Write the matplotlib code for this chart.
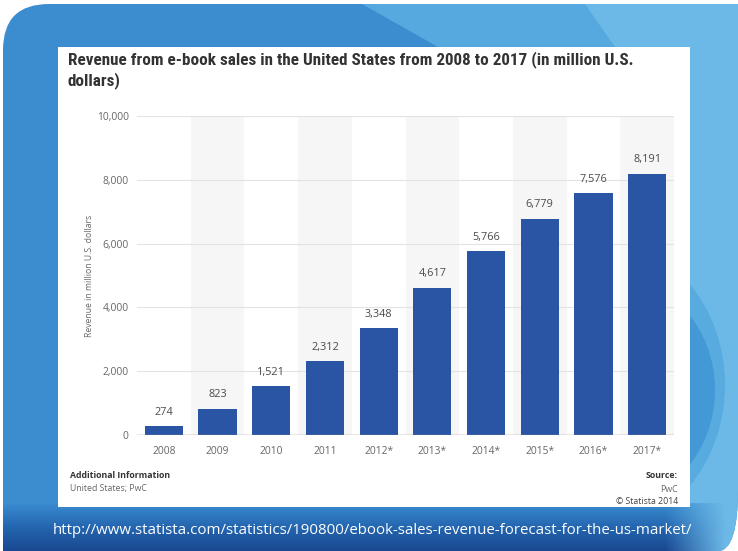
import numpy as np
import matplotlib
matplotlib.use("Agg")
import matplotlib.pyplot as plt
from matplotlib.path import Path
from matplotlib.patches import PathPatch, Rectangle, Polygon, Ellipse
from matplotlib.colors import to_rgb

# Revenue from e-book sales in the US (million U.S. dollars)
years = ["2008", "2009", "2010", "2011", "2012*", "2013*", "2014*", "2015*", "2016*", "2017*"]
revenue = [274, 823, 1521, 2312, 3348, 4617, 5766, 6779, 7576, 8191]
y_ticks = [0, 2000, 4000, 6000, 8000, 10000]

title = "Revenue from e-book sales in the United States from 2008 to 2017 (in million U.S.\ndollars)"
y_label = "Revenue in million U.S. dollars"
url = "http://www.statista.com/statistics/190800/ebook-sales-revenue-forecast-for-the-us-market/"

W, H = 738, 551
BAR = "#2a54a4"
TXT = "#666666"
plt.rcParams["font.family"] = ["Open Sans", "DejaVu Sans"]

fig = plt.figure(figsize=(W / 100, H / 100), dpi=100)
fig.patch.set_facecolor("white")

# ---- slide background (pixel coordinates, y down) ----
bg = fig.add_axes([0, 0, 1, 1])
bg.set_xlim(0, W)
bg.set_ylim(H, 0)
bg.axis("off")

verts = [(3, H), (3, 50), (3, 4), (49, 4), (W, 4), (W, 488), (W, H), (718, H), (3, H)]
codes = [Path.MOVETO, Path.LINETO, Path.CURVE3, Path.CURVE3, Path.LINETO,
         Path.LINETO, Path.CURVE3, Path.CURVE3, Path.CLOSEPOLY]
shape = PathPatch(Path(verts, codes), facecolor="#3b8dcf", edgecolor="none", zorder=1)
bg.add_patch(shape)

layers = [
    Polygon([(362, 4), (W, 4), (W, H), (520, H), (438, 47)], closed=True,
            facecolor="#56a9de", edgecolor="none", zorder=2),
    Polygon([(585, 4), (W, 4), (W, H), (640, H), (615, 47)], closed=True,
            facecolor="#6cb9e7", edgecolor="none", zorder=3),
    Ellipse((600, 385), 250, 290, facecolor="#58abdf", edgecolor="none", zorder=4),
    Ellipse((610, 390), 210, 230, facecolor="#4299d6", edgecolor="none", zorder=5),
]
for p in layers:
    bg.add_patch(p)
    p.set_clip_path(shape)

# dark band along the bottom, fading out towards the right corner
rows, cols = 48, W
top_c, mid_c, bot_c = np.array(to_rgb("#3a8bcf")), np.array(to_rgb("#2466b0")), np.array(to_rgb("#1a4890"))
tv = np.linspace(0, 1, rows)[:, None]
rgb = np.where(tv[..., None] < 0.5,
               top_c + (mid_c - top_c) * (tv[..., None] * 2),
               mid_c + (bot_c - mid_c) * ((tv[..., None] - 0.5) * 2))
rgb = np.broadcast_to(rgb, (rows, cols, 3))
xs = np.arange(cols)
alpha = np.clip((725 - xs) / 60.0, 0, 1)
rgba = np.dstack([rgb, np.broadcast_to(alpha, (rows, cols))])
im = bg.imshow(rgba, extent=[0, W, H, H - rows], aspect="auto", zorder=6,
               interpolation="bilinear")
im.set_clip_path(shape)

# white card
bg.add_patch(Rectangle((58, 47), 632, 460, facecolor="white", edgecolor="none", zorder=7))

bg.text(68, 51, title, fontsize=12.3, fontweight="bold", color="#333333",
        family=["Roboto Condensed", "Liberation Sans Narrow", "Roboto", "DejaVu Sans"],
        ha="left", va="top", linespacing=1.35, zorder=8)

bg.text(70, 476, "Additional Information", fontsize=6.3, fontweight="bold",
        color="#333333", ha="left", va="center", zorder=8)
bg.text(70, 489, "United States; PwC", fontsize=6.3, color=TXT,
        ha="left", va="center", zorder=8)
bg.text(678, 476, "Source:", fontsize=6.3, fontweight="bold",
        color="#333333", ha="right", va="center", zorder=8)
bg.text(678, 489, "PwC", fontsize=6.3, color=TXT, ha="right", va="center", zorder=8)
bg.text(678, 501, "\u00a9 Statista 2014", fontsize=6.3, color="#444444",
        ha="right", va="center", zorder=8)

bg.text(373, 531, url, fontsize=10.8, color="white", ha="center", va="center", zorder=8)

# ---- bar chart ----
x0, x1, y0, y1 = 137, 674, 116, 435
ax = fig.add_axes([x0 / W, 1 - y1 / H, (x1 - x0) / W, (y1 - y0) / H])
ax.set_facecolor("none")
x = np.arange(len(years))
ax.set_xlim(-0.5, len(years) - 0.5)
ax.set_ylim(0, 10000)

for i in x[1::2]:
    ax.axvspan(i - 0.5, i + 0.5, color="#f6f6f6", zorder=0, lw=0)
for t in y_ticks[1:]:
    ax.axhline(t, color="#e3e3e3", lw=0.8, zorder=1)
ax.axhline(0, color="#8a8a8a", lw=1.0, zorder=3)

ax.bar(x, revenue, width=0.71, color=BAR, zorder=2)
for xi, v in zip(x, revenue):
    ax.annotate(f"{v:,}", (xi, v), xytext=(0, 6), textcoords="offset points",
                ha="center", va="bottom", fontsize=7.8, color="#4a4a4a")

ax.set_xticks(x)
ax.set_xticklabels(years)
ax.set_yticks(y_ticks)
ax.set_yticklabels([f"{t:,}" for t in y_ticks])
ax.tick_params(axis="both", length=0, labelsize=7.4, labelcolor=TXT)
ax.tick_params(axis="x", pad=8)
ax.tick_params(axis="y", pad=6)
for s in ax.spines.values():
    s.set_visible(False)
ax.set_ylabel(y_label, fontsize=6.2, color=TXT, labelpad=2)

fig.savefig("out.png", dpi=100)
